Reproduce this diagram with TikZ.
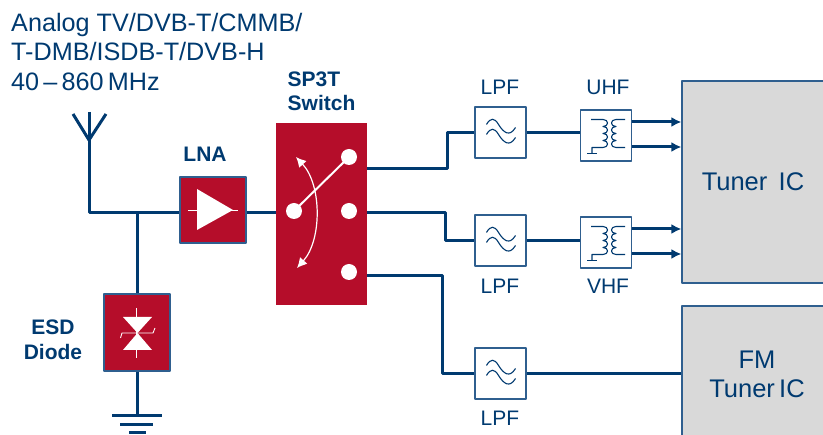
\documentclass[tikz,border=0pt]{standalone}
\usepackage{fontspec}
\setmainfont{Liberation Sans}
\usetikzlibrary{arrows.meta}
\definecolor{navy}{HTML}{003A70}
\definecolor{chipred}{HTML}{B50D2A}
\definecolor{chipgray}{HTML}{D9D9D9}
\definecolor{edgeblue}{HTML}{2F5F8F}

\begin{document}
\begin{tikzpicture}[
  x=1pt, y=-1pt, line join=round,
  wire/.style={draw=navy, line width=3pt},
  feed/.style={wire, -{Latex[length=10pt,width=10pt]}},
  redbox/.style={draw=edgeblue, line width=1.2pt, fill=chipred, minimum width=66pt, minimum height=66pt, inner sep=0pt},
  whitebox/.style={draw=edgeblue, line width=1.2pt, fill=white, minimum width=51pt, minimum height=51pt, inner sep=0pt},
  icbox/.style={draw=edgeblue, line width=1.2pt, fill=chipgray, minimum width=142pt, inner sep=0pt, align=center, text=navy, font=\fontsize{25.5}{29}\selectfont},
  contact/.style={circle, fill=white, minimum size=16pt, inner sep=0pt},
  thin coil/.style={draw=navy, line width=1.1pt},
  lbl/.style={text=navy, inner sep=0pt, font=\fontsize{21}{25}\selectfont},
  boldlbl/.style={text=navy, inner sep=0pt, align=center, font=\fontsize{21}{24.5}\selectfont\bfseries}
]
\useasboundingbox (0,0) rectangle (823,435);

% title
\node[text=navy, inner sep=0pt, anchor=north west, align=left, font=\fontsize{25.2}{29.5}\selectfont] (title) at (11,13)
  {Analog TV/DVB-T/CMMB/\\T-DMB/ISDB-T/DVB-H\\40\,--\,860\,MHz};

% blocks
\node[redbox] (lna) at (213,210) {};
\node[redbox, minimum height=77pt] (esd) at (137,332.5) {};
\node[draw=none, fill=chipred, minimum width=91pt, minimum height=182pt, inner sep=0pt] (switch) at (321.5,214) {};
\node[whitebox] (lpfA) at (500.5,132.5) {};
\node[whitebox] (lpfB) at (500.5,240.5) {};
\node[whitebox] (lpfC) at (500.5,373.5) {};
\node[whitebox] (uhf) at (606,135.5) {};
\node[whitebox] (vhf) at (606,242.5) {};
\node[icbox, minimum height=202pt] (tuner) at (753,182) {Tuner\, IC};
\node[icbox, minimum height=132pt] (fm) at (753,372) {};

% labels
\node[text=navy, inner sep=0pt, align=center, font=\fontsize{25.5}{29}\selectfont] (fmlbl) at (757,374) {FM\\Tuner\,IC};
\node[boldlbl] (lnalbl) at (205,154) {LNA};
\node[boldlbl, align=left, anchor=west] (swlbl) at (287.5,91.5) {SP3T\\Switch};
\node[boldlbl] (esdlbl) at (53,340) {ESD\\Diode};
\node[lbl] (lpfAlbl) at (500,87) {LPF};
\node[lbl] (lpfBlbl) at (500,286) {LPF};
\node[lbl] (lpfClbl) at (500,418) {LPF};
\node[lbl] (uhflbl) at (608,87) {UHF};
\node[lbl] (vhflbl) at (608,286) {VHF};

% antenna and ground
\coordinate (ant) at (89,213);
\coordinate (antTop) at (89,112);
\coordinate (antFork) at (89,140);
\coordinate (antL) at (73,114);
\coordinate (antR) at (106,114);
\coordinate (tap) at (137,213);
\coordinate (gnd) at (137,416);
\draw[wire] (antTop) -- (ant) -- (lna.west |- ant);
\draw[wire] (antL) -- (antFork) -- (antR);
\draw[wire] (tap) -- (esd.north);
\draw[wire] (esd.south) -- (gnd);
\draw[wire] (112,416) -- (162,416);
\draw[wire] (120,425) -- (153,425);
\draw[wire] (129,433) -- (146,433);
\draw[wire] (lna.east |- ant) -- (switch.west |- ant);

% switch outputs
\coordinate (outA) at (367,169);
\coordinate (outB) at (367,213);
\coordinate (outC) at (367,276);
\draw[wire] (outA) -- (447,169) -- (447,132.5) -- (lpfA.west);
\draw[wire] (outB) -- (445,213) -- (445,240.5) -- (lpfB.west);
\draw[wire] (outC) -- (442,276) -- (442,373.5) -- (lpfC.west);
\draw[wire] (lpfA.east) -- (uhf.west |- lpfA.east);
\draw[wire] (lpfB.east) -- (vhf.west |- lpfB.east);
\draw[wire] (lpfC.east) -- (fm.west |- lpfC.east);
\foreach \f/\u in {uhf/-13.5,uhf/11.5,vhf/-13.5,vhf/11.5} {
  \draw[feed] ([yshift=-\u pt]\f.east) -- ([yshift=-\u pt]\f.east -| tuner.west);
}

% switch symbol
\node[contact] (cIn) at (294,211) {};
\node[contact] (cA) at (349,157) {};
\node[contact] (cB) at (349,211) {};
\node[contact] (cC) at (349,272) {};
\draw[white, line width=2pt] (cIn.center) -- (cA.center);
\coordinate (swTop) at (296,157);
\coordinate (swBot) at (297,268);
\draw[white, line width=1.2pt, {Latex[length=10pt,width=10pt]}-{Latex[length=10pt,width=10pt]}]
  (swTop) .. controls (322,185) and (322,240) .. (swBot);

% amplifier symbol
\fill[white] (197,189) -- (233,210) -- (197,230) -- cycle;
\draw[white, line width=.8pt] (188,210) -- (238,210);

% esd symbol
\fill[white] (123,317) -- (152,317) -- (137.5,333) -- cycle;
\fill[white] (123,350) -- (152,350) -- (137.5,333) -- cycle;
\draw[white, line width=.9pt] (136.5,308) -- (136.5,358);
\draw[white, line width=.9pt] (120.5,338) -- (122,333) -- (153,333) -- (155,328);

% filter symbols
\foreach \f in {lpfA,lpfB,lpfC} {
  \begin{scope}[shift={(\f.center)}]
    \draw[thin coil] (-14,-8) .. controls (-10,-15) and (-6,-15) .. (-2,-8) .. controls (3,0) and (9,5) .. (15,-5);
    \draw[thin coil] (-14,2) .. controls (-10,-5) and (-6,-5) .. (-2,2) .. controls (3,10) and (9,15) .. (15,5);
  \end{scope}
}

% transformer symbols
\foreach \f in {uhf,vhf} {
  \begin{scope}[shift={(\f.center)}]
    \draw[thin coil] (-15,-16) -- (-3,-16)
      .. controls (3,-16) and (3,-9) .. (-3,-9)
      .. controls (3,-9) and (3,-2) .. (-3,-2)
      .. controls (3,-2) and (3,5) .. (-3,5)
      .. controls (3,5) and (3,12) .. (-3,12) -- (-14,12) -- (-14,18);
    \draw[thin coil] (-19,18) -- (-9,18);
    \draw[thin coil] (19,-16) -- (10,-16)
      .. controls (4,-16) and (4,-9) .. (10,-9)
      .. controls (4,-9) and (4,-2) .. (10,-2)
      .. controls (4,-2) and (4,5) .. (10,5)
      .. controls (4,5) and (4,12) .. (10,12) -- (19,12);
  \end{scope}
}
\end{tikzpicture}
\end{document}
